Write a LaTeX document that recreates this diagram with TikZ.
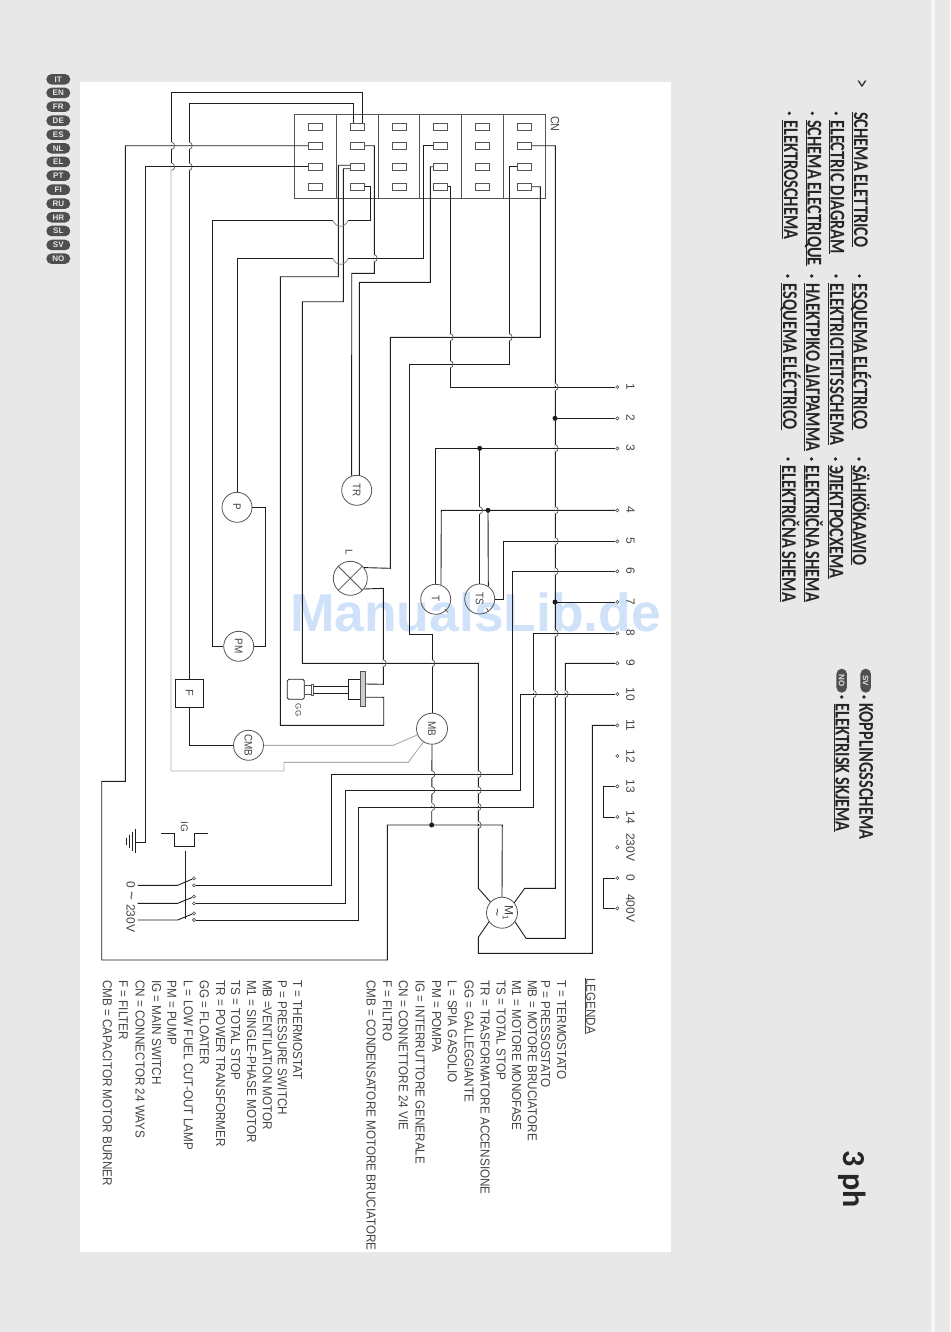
\documentclass[tikz,border=0pt]{standalone}
\usepackage{fontspec}
\setmainfont{Liberation Sans}
\newfontfamily\hdf[FakeStretch=0.78]{Carlito}
\newfontfamily\phf{Carlito}
\newfontfamily\cad[FakeStretch=0.9]{Liberation Sans}
\usetikzlibrary{shapes.misc}
\definecolor{pagebg}{HTML}{E8E8E8}
\definecolor{stripc}{HTML}{F6F6F6}
\definecolor{wirec}{HTML}{1E1E1E}
\definecolor{thinc}{HTML}{555555}
\definecolor{greyw}{HTML}{ABABAB}
\definecolor{legc}{HTML}{444444}
\definecolor{pillc}{HTML}{4F4F4F}
\definecolor{wmark}{HTML}{CFE2FA}
\newcommand\rt[1]{\rotatebox[origin=c]{-90}{#1}}
\newcommand\ulh[1]{\setbox0\hbox{#1}\rlap{\rule[-1.6pt]{\wd0}{1pt}}\box0}
\tikzset{
 wire/.style={draw=wirec,line width=0.9pt},
 greywire/.style={draw=greyw,line width=0.9pt},
 comp/.style={draw=thinc,line width=0.8pt,circle,minimum size=30pt,inner sep=0pt,font=\cad\fontsize{11}{11}\selectfont,text=legc},
 pin/.style={draw=thinc,line width=0.7pt,fill=white,rectangle,minimum width=14.4pt,minimum height=7pt,inner sep=0pt},
 term/.style={draw=thinc,line width=0.6pt,fill=white,circle,minimum size=3.2pt,inner sep=0pt},
 junc/.style={fill=wirec,circle,minimum size=5pt,inner sep=0pt},
 lbl/.style={rotate=-90,inner sep=0pt,text=legc,font=\fontsize{12}{12}\selectfont},
 leg/.style={rotate=-90,anchor=west,inner sep=0pt,text=legc,font=\cad\fontsize{13}{13}\selectfont},
 head/.style={rotate=-90,anchor=base west,inner sep=0pt,text=black!85,font=\hdf\bfseries\fontsize{21}{21}\selectfont},
 pilll/.style={draw=none,fill=pillc,rounded rectangle,minimum width=24pt,minimum height=10.5pt,inner sep=0pt,text=white!90!black,font=\bfseries\fontsize{8}{8}\selectfont},
 pillr/.style={draw=none,fill=pillc,rounded rectangle,minimum width=24pt,minimum height=10.5pt,inner sep=0pt,text=white!90!black,rotate=-90,font=\bfseries\fontsize{8}{8}\selectfont},
}
\newcommand\hopv[2]{%
 \fill[white] (#1-0.8,#2-3.6) rectangle (#1+0.8,#2-0.7);
 \fill[white] (#1-0.8,#2+0.7) rectangle (#1+0.8,#2+3.6);
 \draw[thinc,line width=0.7pt] (#1,#2-3.6) .. controls (#1+3.8,#2-3) and (#1+3.8,#2+3) .. (#1,#2+3.6);
}
\newcommand\hoph[2]{%
 \draw[greyw!70!black,line width=0.7pt] (348.3,#2) .. controls (345,#2+8) and (336,#2+8) .. (332.7,#2);
}
\begin{document}
\begin{tikzpicture}[x=1pt,y=-1pt]
\useasboundingbox (0,0) rectangle (950,1332);
\fill[pagebg] (0,0) rectangle (950,1332);
\fill[stripc] (931,0) rectangle (934.7,1332);
\fill[white] (80,82) rectangle (671,1252);
\node[inner sep=0pt,text=wmark,font=\bfseries\fontsize{53.4}{54}\selectfont] (wm) at (475.5,612) {ManualsLib.de};
% language pills
\foreach \n/\t/\yy in {p1/IT/79.3,p2/EN/92.9,p3/FR/106.7,p4/DE/120.7,p5/ES/134.7,p6/NL/148.3,p7/EL/162,p8/PT/175.7,p9/FI/189.7,p10/RU/203.7,p11/HR/217.3,p12/SL/231,p13/SV/245,p14/NO/258.7}
 \node[pilll] (\n) at (58.3,\yy) {\t};
\node[pillr] (psv) at (865.7,680.7) {SV};
\node[pillr] (pno) at (841.7,680.7) {NO};
% headings
\node[head,font=\hdf\fontsize{22}{22}\selectfont] (h0) at (855,79) {>};
\node[head] (h1) at (854,112) {\ulh{SCHEMA ELETTRICO}};
\node[head] (h2) at (830.7,120) {\ulh{ELECTRIC DIAGRAM}};
\node[head] (h3) at (807.7,120) {\ulh{SCHEMA ELECTRIQUE}};
\node[head] (h4) at (784,120) {\ulh{ELEKTROSCHEMA}};
\node[head] (h5) at (853.5,283.3) {\ulh{ESQUEMA ELÉCTRICO}};
\node[head] (h6) at (830,283.3) {\ulh{ELEKTRICITEITSSCHEMA}};
\node[head] (h7) at (806,283.3) {\ulh{ΗΛΕΚΤΡΙΚΟ ΔΙΑΓΡΑΜΜΑ}};
\node[head] (h8) at (783,283.3) {\ulh{ESQUEMA ELÉCTRICO}};
\node[head] (h9) at (852.5,465) {\ulh{SÄHKÖKAAVIO}};
\node[head] (h10) at (829.5,465) {\ulh{ЭЛЕКТРОСХЕМА}};
\node[head] (h11) at (805.5,465) {\ulh{ELEKTRIČNA SHEMA}};
\node[head] (h12) at (782,465) {\ulh{ELEKTRIČNA SHEMA}};
\node[head] (h13) at (859.3,703.3) {KOPPLINGSSCHEMA};
\node[head] (h14) at (835.7,703.3) {\ulh{ELEKTRISK SKJEMA}};
\node[head,font=\phf\bfseries\fontsize{32}{32}\selectfont] (h15) at (843,1150) {3 ph};
\foreach \xx/\yy in {836/113.3,812.3/113.3,789.3/113.3,859.3/276,836/276,811.7/276,787.7/276,859/459,835.5/459,811.5/459,788/459,864/697,841.7/697}
 \fill[black!85] (\xx,\yy) circle (1.8);
% connector block
\draw[draw=thinc,line width=0.9pt] (294.3,114.3) rectangle (545.7,198.3);
\foreach \xx in {336.3,378.3,419.3,461.3,503.3} \draw[thinc,line width=0.9pt] (\xx,114.3) -- (\xx,198.3);
\foreach \c/\xx in {1/315.5,2/357.5,3/399.5,4/440.5,5/482.5,6/524.5}
 \foreach \r/\yy in {1/126.8,2/145.8,3/166.8,4/186.8}
  \node[pin] (c\c\r) at (\xx,\yy) {};
\node[lbl,font=\cad\fontsize{12}{12}\selectfont] (cn) at (555,124) {CN};
% terminals
\foreach \n/\yy/\t in {1/387/1,2/418.3/2,3/448.3/3,4/510.3/4,5/541.3/5,6/571.3/6,7/602/7,8/633.3/8,9/663.3/9,10/694/10,11/725.3/11,12/756/12,13/786.3/13,14/817/14,v/847.3/230V,z/878/0,w/908.3/400V}{
 \node[term] (t\n) at (617.3,\yy) {};
 \node[lbl] (tl\n) at (630.5,\yy) {\t};
}
% components
\node[comp] (TR) at (356.7,490.3) {\rt{TR}};
\node[comp] (P) at (237,507.3) {\rt{P}};
\node[comp] (PM) at (238.7,646.3) {\rt{PM}};
\node[comp,minimum size=34pt] (L) at (350.3,578.3) {};
\draw[thinc,line width=0.8pt] (L.45) -- (L.225) (L.135) -- (L.315);
\node[lbl,font=\fontsize{10}{10}\selectfont] (Ll) at (349,552.7) {L};
\node[comp] (T) at (435.7,599.3) {\rt{T}};
\node[comp] (TS) at (479.7,599) {\rt{TS}};
\node[comp,minimum size=31pt] (MB) at (432,728.7) {\rt{MB}};
\node[comp] (CMB) at (248.5,745.3) {\rt{CMB}};
\node[comp,minimum size=31pt] (M) at (502,912.7) {};
\node[lbl] (Mt) at (508,913) {M\raisebox{-2pt}{\fontsize{8}{8}\selectfont 1}};
\node[lbl,font=\fontsize{14}{14}\selectfont] (Mw) at (495.5,913) {\textasciitilde};
\node[draw=wirec,line width=0.8pt,minimum size=28pt,inner sep=0pt,font=\fontsize{11}{11}\selectfont,text=legc] (F) at (189.3,693.3) {\rt{F}};
% floater
\node[draw=wirec,line width=0.8pt,rounded corners=1.5pt,minimum width=17pt,minimum height=20pt,inner sep=0pt] (flh) at (295.8,689.3) {};
\draw[thinc,line width=0.7pt] (304.3,685) rectangle (311.7,694);
\draw[thinc,line width=0.7pt] (311.7,684) rectangle (313.7,695);
\draw[wirec,line width=0.8pt] (313.7,686) -- (348.3,686) (313.7,693.3) -- (348.3,693.3);
\draw[wirec,line width=0.8pt] (348.3,679.3) rectangle (360.7,699.3);
\node[draw=thinc,fill=greyw!60,line width=0.6pt,minimum width=4.6pt,minimum height=35pt,inner sep=0pt] (fl) at (363,689.2) {};
\node[lbl,font=\fontsize{8}{8}\selectfont] (gg) at (298.3,710) {GG};
% junctions
\node[junc] (j2) at (555,418.3) {};
\node[junc] (j3) at (479.7,448.3) {};
\node[junc] (j4) at (488,510.3) {};
\node[junc] (j7) at (555,602) {};
\node[junc] (jB) at (431.7,825) {};
% switch
\foreach \n/\ya/\yb in {1/878.3/885.3,2/896.7/903.3,3/913.3/920}{
 \node[term] (s\n a) at (194,\ya) {};
 \node[term] (s\n b) at (194,\yb) {};
 \coordinate (l\n) at (137.7,\yb);
 \draw[wire] (l\n) -- (177.7,\yb) -- (s\n a);
}
\draw[wire,line width=0.8pt] (185.7,850.7) -- (185.7,919);
\draw[wire] (160.7,833.3) -- (174.3,833.3) -- (174.3,846.7) -- (194.7,846.7) -- (194.7,833.3) -- (207.7,833.3);
\node[lbl,font=\fontsize{10}{10}\selectfont] (ig) at (184.3,826.7) {IG};
\node[lbl] (sw) at (130.7,907) {0 {\fontsize{15}{12}\selectfont\textasciitilde} 230V};
% ground
\coordinate (gnd) at (135.7,842.3);
\draw[wire] (gnd) -- (135.7,829.3) (gnd) -- (135.7,853.3);
\draw[wire,line width=0.8pt] (132.7,831.7) -- (132.7,850.7) (129.3,834.7) -- (129.3,847.7) (126.3,837.7) -- (126.3,844.7);
% wires
\draw[wire] ([xshift=-4.2pt]c21.north) -- (353.3,103.3) -- (189.3,103.3) -- (F.north);
\draw[wire] (F.south) |- (CMB.west);
\draw[wire] ([xshift=4.8pt]c21.north) -- (362.3,92) -- (171.7,92) -- (171.7,168);
\draw[greywire] (171,168) -- (171,771) -- (284,771) -- (284,762.3) -- (408.3,762.3) -- (MB.237);
\draw[greywire] (CMB.east) -- (393.3,745.3) -- (MB.203);
\draw[wire] (c12.west) -- (125.3,145.8) -- (125.3,781.3) -- (101.7,781.3) -- (101.7,960) -- (387.3,960) -- (387.3,825) -- (jB.center) -- (502.3,825) -- (M.north);
\draw[wire] (c13.west) -- (145.3,166.8) -- (145.3,842.3) -- (gnd);
\draw[wire] (c22.east) -- (374.3,145.8) -- (374.3,273.3) -- (351.7,273.3) -- (TR.109.5);
\draw[wire] (c43.west) -- (430.3,166.8) -- (430.3,282.3) -- (359.3,282.3) -- (TR.80);
\draw[wire] ([yshift=1.5pt]c23.west) -- (338.3,165.3) -- (338.3,276.7) -- (280.3,276.7) -- (280.3,725.3) -- (383.7,725.3) -- (383.7,697.3) -- ([yshift=-8pt]fl.east);
\draw[wire] ([yshift=-2pt]c23.west) -- (343.3,168.8) -- (343.3,301.7) -- (302.3,301.7) -- (302.3,663.3) -- (478.3,663.3) -- (478.3,888.3) -- (M.137);
\draw[wire] (c24.east) -- (370.3,186.8) -- (370.3,220.3) -- (348.3,220.3);
\draw[wire] (332.7,220.3) -- (212.3,220.3) -- (212.3,646.3) -- (PM.west);
\draw[wire] (PM.east) -- (265.3,646.3) -- (265.3,507.3) -- (P.east);
\draw[wire] (c42.west) -- (423.3,145.8) -- (423.3,258.3) -- (348.3,258.3);
\draw[wire] (332.7,258.3) -- (237,258.3) -- (P.north);
\hoph{0}{220.3}
\hoph{0}{258.3}
\draw[wire] (c44.east) -- (450.3,186.8) -- (450.3,387) -- (t1.west);
\draw[wire] (c62.east) -- (555.3,145.8) -- (555.3,888.3) -- (524.7,888.3) -- (M.39);
\draw[wire] (j2.center) -- (t2.west);
\draw[wire] (j7.center) -- (t7.west);
\draw[wire] (c63.west) -- (509.3,166.8) -- (509.3,364.3) -- (409.3,364.3) -- (409.3,634) -- (432,634) -- (MB.north);
\draw[wire] (MB.south) -- (jB.center);
\draw[wire] (c64.east) -- (540.3,186.8) -- (540.3,337.3) -- (390.3,337.3) -- (390.3,568.3) -- (L.38);
\draw[wire] (L.-38) -- (383.3,588.3) -- (383.3,684.3) -- ([yshift=5.2pt]fl.east);
\draw[wire] (t3.west) -- (435.7,448.3) -- (T.north);
\draw[wire] (j3.center) -- (TS.north);
\draw[wire] (t4.west) -- (441.3,510.3) -- (T.70);
\draw[wire] (j4.center) -- (TS.56);
\draw[wire] (TS.east) -- (503.3,599) -- (503.3,541.3) -- (t5.west);
\draw[wire] (t6.west) -- (512.7,571.3) -- (512.7,774.3) -- (331.7,774.3) -- (331.7,885.3) -- (s1b.east);
\draw[wire] (t8.west) -- (533.5,633.3) -- (533.5,807) -- (358.7,807) -- (358.7,920) -- (s3b.east);
\draw[wire] (t10.west) -- (520.3,694) -- (520.3,790.3) -- (345.7,790.3) -- (345.7,903.3) -- (s2b.east);
\draw[wire] (t9.west) -- (565.3,663.3) -- (565.3,938.3) -- (526,938.3) -- (M.325);
\draw[wire] (t11.west) -- (592.3,725.3) -- (592.3,953.3) -- (478.3,953.3) -- (478.3,937.3) -- (M.215);
\draw[wire] (t13.west) -- (603.3,786.3) -- (603.3,817) -- (t14.west);
\draw[wire] (tz.west) -- (603.3,878) -- (603.3,908.3) -- (tw.west);
% crossings
\hopv{171.7}{145.8}\hopv{171.7}{166.8}\hopv{189.3}{145.8}\hopv{189.3}{166.8}
\hopv{374.3}{258.3}
\hopv{450.3}{337.3}\hopv{450.3}{364.3}\hopv{509.3}{337.3}
\hopv{555.3}{387}\hopv{555.3}{448.3}\hopv{555.3}{510.3}\hopv{555.3}{541.3}\hopv{555.3}{571.3}\hopv{555.3}{633.3}\hopv{555.3}{694}
\hopv{479.7}{510.3}
\hopv{383.3}{663.3}\hopv{432}{663.3}
\hopv{565.3}{694}\hopv{533.5}{694}
\hopv{432}{774.3}\hopv{432}{790.3}\hopv{432}{807}
\hopv{478.3}{774.3}\hopv{478.3}{790.3}\hopv{478.3}{807}\hopv{478.3}{825}
% small contact ticks
\draw[thinc,line width=0.7pt] (445,609) -- (448,612.5) (486.5,608) -- (488.5,611.5);
% legend
\node[leg] (lgt) at (590,978) {\ulh{LEGENDA}};
\foreach \n/\xx/\t in {a/561.7/T = TERMOSTATO,b/545.7/P = PRESSOSTATO,c/532.3/MB = MOTORE BRUCIATORE,d/516.7/M1 = MOTORE MONOFASE,e/501/TS = TOTAL STOP,f/485/TR = TRASFORMATORE ACCENSIONE,g/469/GG = GALLEGGIANTE,h/452.3/L = SPIA GASOLIO,i/436.7/PM = POMPA,j/420/IG = INTERRUTTORE GENERALE,k/403.3/CN = CONNETTORE 24 VIE,l/387.3/F = FILTRO,m/371/CMB = CONDENSATORE MOTORE BRUCIATORE}
 \node[leg] (li\n) at (\xx,980) {\t};
\foreach \n/\xx/\t in {a/297.7/T = THERMOSTAT,b/282.3/P = PRESSURE SWITCH,c/267.3/MB =VENTILATION MOTOR,d/251.7/M1 = SINGLE-PHASE MOTOR,e/235.7/TS = TOTAL STOP,f/220.7/TR = POWER TRANSFORMER,g/204.3/GG = FLOATER,h/188.3/L = LOW FUEL CUT-OUT LAMP,i/171.7/PM = PUMP,j/156.7/IG = MAIN SWITCH,k/140/CN = CONNECTOR 24 WAYS,l/123.3/F = FILTER,m/107.3/CMB =  CAPACITOR MOTOR BURNER}
 \node[leg] (le\n) at (\xx,980) {\t};
\end{tikzpicture}
\end{document}
